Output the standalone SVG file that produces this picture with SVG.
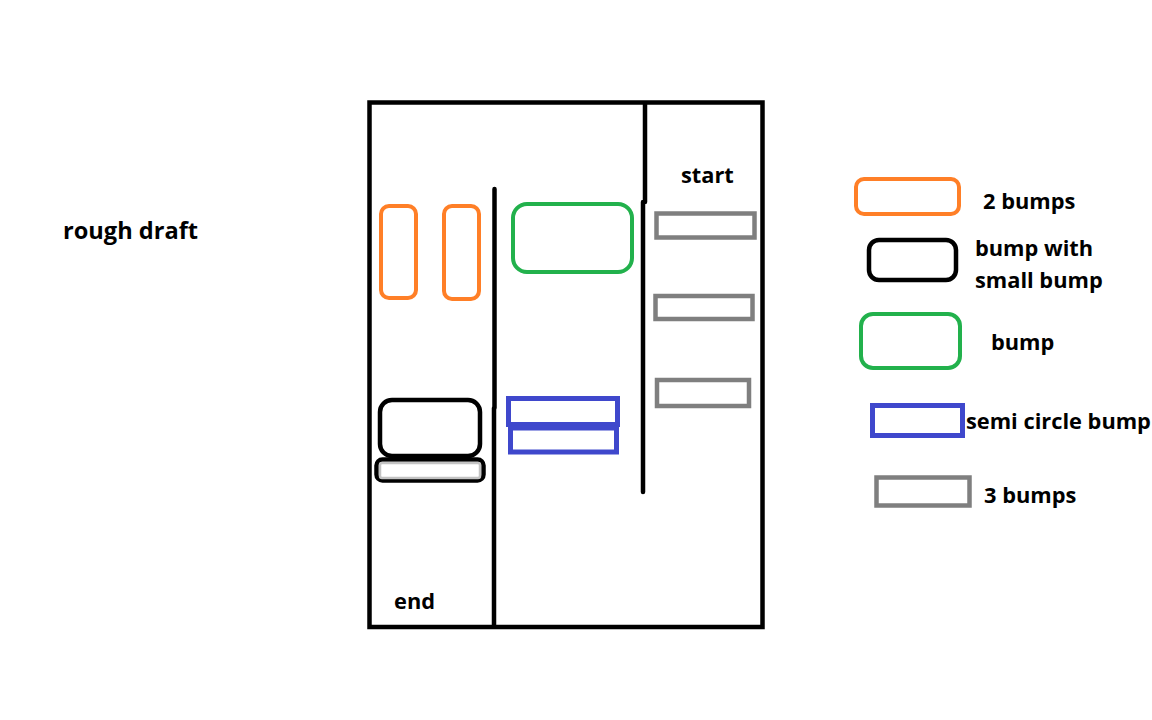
<svg xmlns="http://www.w3.org/2000/svg" width="1152" height="720" viewBox="0 0 1152 720">
<style>
  .t { font-family: "Open Sans", "Liberation Sans", sans-serif; font-weight: bold; font-size: 21.8px; fill: #000; }
  .orange { fill: none; stroke: #ff7f27; stroke-width: 4; }
  .green { fill: none; stroke: #22b14c; stroke-width: 4; }
  .blue { fill: none; stroke: #3f48cc; stroke-width: 5; }
  .gray { fill: none; stroke: #7f7f7f; stroke-width: 4.5; }
  .blk { fill: none; stroke: #000; stroke-width: 4.5; }
  .wall { fill: none; stroke: #000; stroke-width: 4.5; stroke-linecap: round; }
</style>
<rect width="1152" height="720" fill="#fff"/>
<g id="title"><text class="t" x="63" y="239" style="font-size:23.6px">rough draft</text></g>
<g id="walls">
  <rect x="369.5" y="102.5" width="393" height="524.5" fill="none" stroke="#000" stroke-width="4.5"/>
  <path class="wall" d="M494.5,189 V408 M494,408 V625"/>
  <path class="wall" d="M645,104 V202 M643,202 V492"/>
</g>
<g id="start"><text class="t" x="681" y="183">start</text></g>
<g id="end"><text class="t" x="394" y="609">end</text></g>
<g id="two-bumps-1"><rect class="orange" x="381" y="206" width="35" height="92" rx="8"/></g>
<g id="two-bumps-2"><rect class="orange" x="444" y="206" width="35" height="93" rx="8"/></g>
<g id="bump-green"><rect class="green" x="513" y="204" width="119" height="68" rx="14"/></g>
<g id="three-bumps-1"><rect class="gray" x="656.5" y="213.5" width="98" height="24"/></g>
<g id="three-bumps-2"><rect class="gray" x="655.5" y="296" width="97" height="23"/></g>
<g id="three-bumps-3"><rect class="gray" x="657" y="380" width="92" height="26"/></g>
<g id="semi-circle-1"><rect class="blue" x="508.5" y="398.5" width="109" height="26"/></g>
<g id="semi-circle-2"><rect class="blue" x="510.5" y="428" width="106" height="24"/></g>
<g id="bump-small-bump">
  <rect class="blk" x="380" y="400" width="100" height="56" rx="12"/>
  <rect class="blk" x="376.5" y="459.5" width="107" height="21" rx="6"/>
  <rect x="380" y="463" width="100" height="15" rx="2" fill="#fff" stroke="#c3c3c3" stroke-width="2.5"/>
</g>
<g id="legend">
  <g id="legend-2-bumps"><rect class="orange" x="856" y="179" width="103" height="35" rx="8"/><text class="t" x="983" y="209">2 bumps</text></g>
  <g id="legend-bump-small"><rect class="blk" x="869" y="240" width="87" height="40" rx="10"/><text class="t" x="975" y="256">bump with</text><text class="t" x="975" y="288">small bump</text></g>
  <g id="legend-bump"><rect class="green" x="861" y="314" width="99" height="54" rx="12"/><text class="t" x="991" y="350">bump</text></g>
  <g id="legend-semi"><rect class="blue" x="872.5" y="405.5" width="90" height="30"/><text class="t" x="966" y="429">semi circle bump</text></g>
  <g id="legend-3-bumps"><rect class="gray" x="876.5" y="477.5" width="93" height="28"/><text class="t" x="984" y="503">3 bumps</text></g>
</g>
</svg>
